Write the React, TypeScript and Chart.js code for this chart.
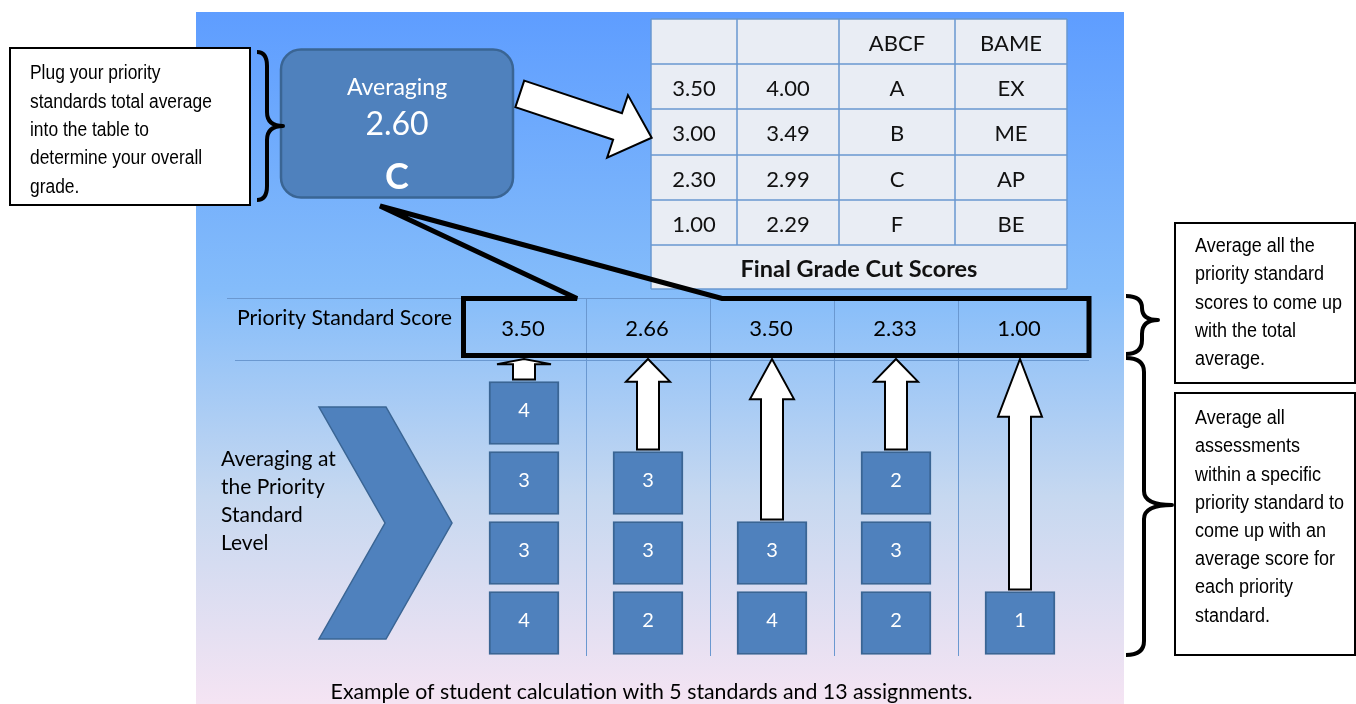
import React, { useEffect, useRef } from 'react';
import { Chart, registerables } from 'chart.js';

Chart.register(...registerables);

// ---------- data ----------
const standards = ['PS 1', 'PS 2', 'PS 3', 'PS 4', 'PS 5'];
// assessment scores inside each priority standard, listed bottom to top
const standard1Scores = [4, 3, 3, 4];
const standard2Scores = [2, 3, 3];
const standard3Scores = [4, 3];
const standard4Scores = [2, 3, 2];
const standard5Scores = [1];
const assessmentScores = [standard1Scores, standard2Scores, standard3Scores, standard4Scores, standard5Scores];
const priorityStandardScores = ['3.50', '2.66', '3.50', '2.33', '1.00'];
const overallAverage = '2.60';
const overallGrade = 'C';

const tableHeader = ['', '', 'ABCF', 'BAME'];
const cutLow = ['3.50', '3.00', '2.30', '1.00'];
const cutHigh = ['4.00', '3.49', '2.99', '2.29'];
const gradeABCF = ['A', 'B', 'C', 'F'];
const gradeBAME = ['EX', 'ME', 'AP', 'BE'];
const tableTitle = 'Final Grade Cut Scores';

const rowLabel = 'Priority Standard Score';
const boxTitle = 'Averaging';
const chevronLabel = ['Averaging at', 'the Priority', 'Standard', 'Level'];
const leftNote = ['Plug your priority', 'standards total average', 'into the table to', 'determine your overall', 'grade.'];
const topRightNote = ['Average all the', 'priority standard', 'scores to come up', 'with the total', 'average.'];
const bottomRightNote = ['Average all', 'assessments', 'within a specific', 'priority standard to', 'come up with an', 'average score for', 'each priority', 'standard.'];
const caption = 'Example of student calculation with 5 standards and 13 assignments.';

const levels = [0, 1, 2, 3];

// ---------- styling ----------
const CAL = 'Lato, "Open Sans", sans-serif';
const ARIAL = '"Liberation Sans", Arial, sans-serif';
const BLUE = '#4F81BD';
const BLUE_EDGE = '#3A6594';
const GRID = '#6A98D0';

function txt(
  ctx: CanvasRenderingContext2D,
  s: string,
  x: number,
  y: number,
  size: number,
  o: { family?: string; weight?: string; color?: string; align?: CanvasTextAlign; sx?: number } = {}
) {
  const family = o.family || CAL;
  const weight = o.weight || 'normal';
  const sx = o.sx || 1;
  ctx.save();
  ctx.font = `${weight} ${size}px ${family}`;
  ctx.fillStyle = o.color || '#000';
  ctx.textAlign = o.align || 'left';
  ctx.textBaseline = 'alphabetic';
  const by = y + 0.358 * size;
  ctx.translate(x, by);
  ctx.scale(sx, 1);
  ctx.fillText(s, 0, 0);
  ctx.restore();
}

function brace(ctx: CanvasRenderingContext2D, xl: number, xm: number, xr: number, y1: number, ym: number, y2: number) {
  const r1 = Math.min(14, (ym - y1) / 2);
  const r2 = Math.min(14, (y2 - ym) / 2);
  ctx.save();
  ctx.strokeStyle = '#000';
  ctx.lineWidth = 4;
  ctx.lineJoin = 'round';
  ctx.lineCap = 'butt';
  ctx.beginPath();
  ctx.moveTo(xl, y1);
  ctx.quadraticCurveTo(xm, y1, xm, y1 + r1);
  ctx.lineTo(xm, ym - r1);
  ctx.quadraticCurveTo(xm, ym, xr, ym);
  ctx.quadraticCurveTo(xm, ym, xm, ym + r2);
  ctx.lineTo(xm, y2 - r2);
  ctx.quadraticCurveTo(xm, y2, xl, y2);
  ctx.stroke();
  ctx.restore();
}

function upArrow(ctx: CanvasRenderingContext2D, cx: number, bottom: number, tip: number) {
  const L = bottom - tip;
  const head = 0.25 * L;
  const hw = L < 40 ? 27 : 22;
  const bw = 11;
  const hb = tip + head;
  ctx.save();
  ctx.beginPath();
  ctx.moveTo(cx - bw, bottom);
  ctx.lineTo(cx - bw, hb);
  ctx.lineTo(cx - hw, hb);
  ctx.lineTo(cx, tip);
  ctx.lineTo(cx + hw, hb);
  ctx.lineTo(cx + bw, hb);
  ctx.lineTo(cx + bw, bottom);
  ctx.closePath();
  ctx.fillStyle = '#fff';
  ctx.fill();
  ctx.strokeStyle = '#000';
  ctx.lineWidth = 2;
  ctx.lineJoin = 'miter';
  ctx.stroke();
  ctx.restore();
}

const deco = {
  id: 'deco',
  beforeDraw(chart: any) {
    const ctx: CanvasRenderingContext2D = chart.ctx;
    ctx.save();
    ctx.fillStyle = '#fff';
    ctx.fillRect(0, 0, chart.width, chart.height);
    const g = ctx.createLinearGradient(0, 12, 0, 704);
    g.addColorStop(0, '#5E9DFF');
    g.addColorStop(0.4, '#84BCFA');
    g.addColorStop(0.7, '#C6D8F0');
    g.addColorStop(1, '#F5E4F3');
    ctx.fillStyle = g;
    ctx.fillRect(196, 12, 928, 692);

    // grid lines of the standards table
    const xs = chart.scales.x;
    ctx.strokeStyle = GRID;
    ctx.lineWidth = 1;
    ctx.beginPath();
    ctx.moveTo(227, 298.5);
    ctx.lineTo(1089, 298.5);
    ctx.moveTo(235, 360.5);
    ctx.lineTo(1089, 360.5);
    for (let i = 0; i < standards.length - 1; i++) {
      const xm = Math.round((xs.getPixelForValue(i) + xs.getPixelForValue(i + 1)) / 2) + 0.5;
      ctx.moveTo(xm, 298);
      ctx.lineTo(xm, 656);
    }
    ctx.stroke();
    ctx.restore();
  },
  afterDatasetsDraw(chart: any) {
    const ctx: CanvasRenderingContext2D = chart.ctx;
    const xs = chart.scales.x;
    const ys = chart.scales.y;

    // numbers on the assessment squares
    levels.forEach((j) => {
      const meta = chart.getDatasetMeta(j);
      assessmentScores.forEach((s, i) => {
        if (j < s.length) {
          const el: any = meta.data[i];
          const cy = (el.y + el.base) / 2 - 3;
          txt(ctx, String(s[j]), el.x, cy, 20, { color: '#fff', align: 'center' });
        }
      });
    });

    // arrows from each stack up to its priority standard score
    assessmentScores.forEach((s, i) => {
      const cx = xs.getPixelForValue(i);
      const stackTop = ys.getPixelForValue(s.length - 0.05);
      upArrow(ctx, cx, stackTop - 2, 359);
    });

    // priority standard scores
    priorityStandardScores.forEach((v, i) => {
      txt(ctx, v, xs.getPixelForValue(i) - 1, 328, 22, { align: 'center' });
    });
    txt(ctx, rowLabel, 237, 317, 21.3);

    // chevron
    ctx.save();
    ctx.beginPath();
    ctx.moveTo(319, 407);
    ctx.lineTo(386, 407);
    ctx.lineTo(452, 523);
    ctx.lineTo(386, 639);
    ctx.lineTo(319, 639);
    ctx.lineTo(385, 523);
    ctx.closePath();
    ctx.fillStyle = BLUE;
    ctx.fill();
    ctx.strokeStyle = BLUE_EDGE;
    ctx.lineWidth = 1.5;
    ctx.stroke();
    ctx.restore();
    chevronLabel.forEach((l, k) => txt(ctx, l, 221, 458.5 + k * 28, 21));

    // cut score table
    const cols = [651, 737, 839, 955, 1067];
    const rows = [19, 64, 109, 155, 200, 245, 289];
    ctx.save();
    ctx.fillStyle = '#E9EDF4';
    ctx.fillRect(cols[0], rows[0], cols[4] - cols[0], rows[6] - rows[0]);
    ctx.strokeStyle = GRID;
    ctx.lineWidth = 1.5;
    ctx.beginPath();
    rows.forEach((r) => {
      ctx.moveTo(cols[0], r);
      ctx.lineTo(cols[4], r);
    });
    cols.forEach((c, k) => {
      const isEdge = k === 0 || k === cols.length - 1;
      ctx.moveTo(c, rows[0]);
      ctx.lineTo(c, isEdge ? rows[6] : rows[5]);
    });
    ctx.stroke();
    ctx.restore();
    const cellX = (k: number) => (cols[k] + cols[k + 1]) / 2;
    const cellY = (r: number) => (rows[r] + rows[r + 1]) / 2 + 1.5;
    tableHeader.forEach((h, k) => {
      if (h) txt(ctx, h, cellX(k), cellY(0), 22, { align: 'center', color: '#111' });
    });
    const tableCols = [cutLow, cutHigh, gradeABCF, gradeBAME];
    tableCols.forEach((col, k) => {
      col.forEach((v, r) => txt(ctx, v, cellX(k), cellY(r + 1), 22, { align: 'center', color: '#111' }));
    });
    txt(ctx, tableTitle, (cols[0] + cols[4]) / 2, cellY(5), 23.5, { align: 'center', weight: 'bold', color: '#111' });

    // callout around the score row
    ctx.save();
    ctx.beginPath();
    ctx.moveTo(463.5, 298.5);
    ctx.lineTo(577, 298.5);
    ctx.lineTo(380, 206);
    ctx.lineTo(722, 298.5);
    ctx.lineTo(1089, 298.5);
    ctx.lineTo(1089, 355.5);
    ctx.lineTo(463.5, 355.5);
    ctx.closePath();
    ctx.strokeStyle = '#000';
    ctx.lineWidth = 5;
    ctx.lineJoin = 'miter';
    ctx.miterLimit = 4;
    ctx.stroke();
    ctx.restore();

    // averaging box
    ctx.save();
    ctx.beginPath();
    (ctx as any).roundRect(281, 49.5, 232, 148, 20);
    ctx.fillStyle = BLUE;
    ctx.fill();
    ctx.strokeStyle = BLUE_EDGE;
    ctx.lineWidth = 2.5;
    ctx.stroke();
    ctx.restore();
    txt(ctx, boxTitle, 397, 87, 23, { align: 'center', color: '#fff' });
    txt(ctx, overallAverage, 397, 123.5, 32, { align: 'center', color: '#fff' });
    txt(ctx, overallGrade, 397, 176, 36, { align: 'center', color: '#fff', weight: 'bold' });

    // block arrow to the table
    const tail = [519.8, 93.9];
    const d = [Math.cos((18.4 * Math.PI) / 180), Math.sin((18.4 * Math.PI) / 180)];
    const n = [-d[1], d[0]];
    const local = [[0, -14], [103, -14], [103, -33], [139, 0], [103, 33], [103, 14], [0, 14]];
    ctx.save();
    ctx.beginPath();
    local.forEach(([u, v], k) => {
      const px = tail[0] + u * d[0] + v * n[0];
      const py = tail[1] + u * d[1] + v * n[1];
      if (k === 0) ctx.moveTo(px, py);
      else ctx.lineTo(px, py);
    });
    ctx.closePath();
    ctx.fillStyle = '#fff';
    ctx.fill();
    ctx.strokeStyle = '#000';
    ctx.lineWidth = 2;
    ctx.stroke();
    ctx.restore();

    // note boxes
    ctx.save();
    ctx.strokeStyle = '#000';
    ctx.lineWidth = 2;
    ctx.fillStyle = '#fff';
    ctx.fillRect(10, 48, 240, 157);
    ctx.strokeRect(10, 48, 240, 157);
    ctx.fillRect(1175, 223, 180, 160);
    ctx.strokeRect(1175, 223, 180, 160);
    ctx.fillRect(1175, 393, 180, 262);
    ctx.strokeRect(1175, 393, 180, 262);
    ctx.restore();
    leftNote.forEach((l, k) => txt(ctx, l, 30, 72.2 + k * 28.3, 20, { family: ARIAL, sx: 0.87 }));
    topRightNote.forEach((l, k) => txt(ctx, l, 1195, 245 + k * 28.2, 20, { family: ARIAL, sx: 0.9 }));
    bottomRightNote.forEach((l, k) => txt(ctx, l, 1195, 417 + k * 28.2, 20, { family: ARIAL, sx: 0.9 }));

    // braces
    brace(ctx, 257, 267, 283, 52, 126, 200);
    brace(ctx, 1126, 1142, 1158, 296, 320, 354);
    brace(ctx, 1126, 1144, 1172, 358, 505, 655);

    // caption
    txt(ctx, caption, 651.5, 691, 21.3, { align: 'center' });
  },
};

export default function App() {
  const ref = useRef<HTMLCanvasElement | null>(null);
  useEffect(() => {
    if (!ref.current) return;
    const datasets = levels.map((j) => ({
      label: `Assessment ${j + 1}`,
      data: assessmentScores.map((s) => (j < s.length ? [j + 0.05, j + 0.95] : null)),
      backgroundColor: BLUE,
      borderColor: BLUE_EDGE,
      borderWidth: 2,
      borderSkipped: false,
      barThickness: 70,
      grouped: false,
    }));
    const chart = new Chart(ref.current, {
      type: 'bar',
      data: { labels: standards, datasets: datasets as any },
      options: {
        animation: false,
        responsive: false,
        layout: { padding: { left: 462, right: 274, top: 308, bottom: 46 } },
        plugins: { legend: { display: false }, tooltip: { enabled: false } },
        scales: {
          x: { display: false, grid: { display: false } },
          y: { display: false, min: 0, max: 5, grid: { display: false } },
        },
      },
      plugins: [deco],
    });
    return () => chart.destroy();
  }, []);
  return (
    <div style={{ position: 'absolute', left: 0, top: 0, width: 1356, height: 704 }}>
      <canvas ref={ref} width={1356} height={704} style={{ display: 'block' }} />
    </div>
  );
}
